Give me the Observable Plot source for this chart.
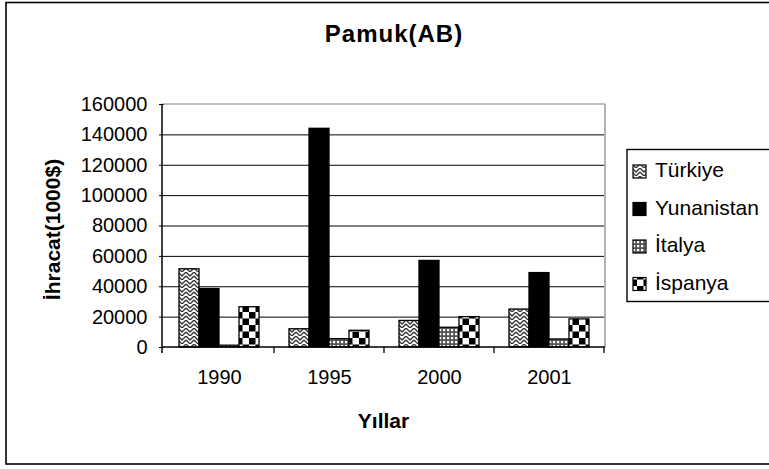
<!DOCTYPE html>
<html>
<head>
<meta charset="utf-8">
<script src="https://cdn.jsdelivr.net/npm/d3@7"></script>
<script src="https://cdn.jsdelivr.net/npm/@observablehq/plot@0.6"></script>
<style>
  html, body { margin: 0; padding: 0; background: white; }
  #chart { width: 769px; height: 469px; overflow: hidden; }
  svg { display: block; }
</style>
</head>
<body>
<div id="chart"></div>
<script>
// ---- data ----
const years = ["1990", "1995", "2000", "2001"];
const series = ["Türkiye", "Yunanistan", "İtalya", "İspanya"];
const turkiye = [51500, 12000, 17500, 25000];
const yunanistan = [38500, 144000, 57000, 49000];
const italya = [1200, 5500, 13000, 5300];
const ispanya = [26500, 11000, 20000, 18500];
const yTicks = [0, 20000, 40000, 60000, 80000, 100000, 120000, 140000, 160000];
const title = "Pamuk(AB)";
const xTitle = "Yıllar";
const yTitle = "İhracat(1000$)";

const seriesValues = [turkiye, yunanistan, italya, ispanya];
const data = years.flatMap((yr, i) =>
  series.map((s, j) => ({year: yr, series: s, value: seriesValues[j][i]})));

const patternIds = ["pat-tr", "pat-gr", "pat-it", "pat-es"];
const patternUrls = patternIds.map(id => `url(#${id})`);
const FONT = "'Liberation Sans', Arial, sans-serif";

const chart = Plot.plot({
  width: 769,
  height: 469,
  marginLeft: 162,
  marginRight: 164,
  marginTop: 104,
  marginBottom: 122,
  style: {fontFamily: FONT, fontSize: "20px", background: "white", color: "black", overflow: "visible"},
  fx: {domain: years, padding: 0, label: null},
  x: {domain: series, paddingInner: 0, paddingOuter: 0.7, axis: null},
  y: {domain: [0, 160000], label: null},
  color: {domain: series, range: patternUrls},
  marks: [
    Plot.gridY(yTicks.filter(t => t > 0 && t < 160000), {stroke: "black", strokeOpacity: 1, strokeWidth: 1}),
    Plot.barY(data, {fx: "year", x: "series", y: "value", fill: "series", stroke: "black", strokeWidth: 1.3}),
    Plot.axisY(yTicks, {tickSize: 5, tickPadding: 12, fontSize: 20, label: null, tickFormat: d => String(d), stroke: "black"}),
    Plot.axisFx({anchor: "bottom", tickSize: 0, tickPadding: 22, fontSize: 20, label: null})
  ]
});

document.getElementById("chart").appendChild(chart);

const svg = d3.select(chart);
// patterns
const defs = svg.insert("defs", ":first-child");
// Türkiye: zigzag / chevron
const p1 = defs.append("pattern").attr("id", "pat-tr").attr("patternUnits", "userSpaceOnUse")
  .attr("width", 8).attr("height", 8);
p1.append("rect").attr("width", 8).attr("height", 8).attr("fill", "white");
p1.append("path").attr("d", "M0,0 L4,4 L8,0 M0,4 L4,8 L8,4")
  .attr("fill", "none").attr("stroke", "#333").attr("stroke-width", 1.3);
// Yunanistan: solid
const p2 = defs.append("pattern").attr("id", "pat-gr").attr("patternUnits", "userSpaceOnUse")
  .attr("width", 4).attr("height", 4);
p2.append("rect").attr("width", 4).attr("height", 4).attr("fill", "black");
// İtalya: dotted grid
const p3 = defs.append("pattern").attr("id", "pat-it").attr("patternUnits", "userSpaceOnUse")
  .attr("width", 4).attr("height", 4);
p3.append("rect").attr("width", 4).attr("height", 4).attr("fill", "#555");
p3.append("rect").attr("x", 1).attr("y", 1).attr("width", 2.2).attr("height", 2.2).attr("fill", "white");
// İspanya: checkerboard
const p4 = defs.append("pattern").attr("id", "pat-es").attr("patternUnits", "userSpaceOnUse")
  .attr("width", 13).attr("height", 13);
p4.append("rect").attr("width", 13).attr("height", 13).attr("fill", "white");
p4.append("rect").attr("width", 6.5).attr("height", 6.5).attr("fill", "black");
p4.append("rect").attr("x", 6.5).attr("y", 6.5).attr("width", 6.5).attr("height", 6.5).attr("fill", "black");

const fx = chart.scale("fx");
const y = chart.scale("y");
const color = chart.scale("color");
const x0 = fx.range[0], x1 = fx.range[1];
const yBottom = y.apply(0), yTop = y.apply(160000);
const step = fx.step;

const g = svg.append("g");
// plot area border (gray top/right)
g.append("line").attr("x1", x0).attr("x2", x1).attr("y1", yTop).attr("y2", yTop).attr("stroke", "#808080").attr("stroke-width", 1.2);
g.append("line").attr("x1", x1).attr("x2", x1).attr("y1", yTop).attr("y2", yBottom).attr("stroke", "#808080").attr("stroke-width", 1.2);
// axes lines
g.append("line").attr("x1", x0).attr("x2", x0).attr("y1", yTop).attr("y2", yBottom + 6).attr("stroke", "black").attr("stroke-width", 1.5);
g.append("line").attr("x1", x0).attr("x2", x1).attr("y1", yBottom).attr("y2", yBottom).attr("stroke", "black").attr("stroke-width", 1.5);
// category boundary ticks
years.forEach(yr => {
  const bx = fx.apply(yr) + step;
  g.append("line").attr("x1", bx).attr("x2", bx).attr("y1", yBottom).attr("y2", yBottom + 6).attr("stroke", "black").attr("stroke-width", 1.3);
});

// outer chart border
g.append("rect").attr("x", 6).attr("y", 2.5).attr("width", 800).attr("height", 461.5)
  .attr("fill", "none").attr("stroke", "black").attr("stroke-width", 1.6);

// titles
g.append("text").attr("x", 394).attr("y", 42).attr("text-anchor", "middle")
  .attr("font-family", FONT).attr("font-size", 24).attr("font-weight", "bold").attr("letter-spacing", 1)
  .text(title);
g.append("text").attr("x", (x0 + x1) / 2).attr("y", 428).attr("text-anchor", "middle")
  .attr("font-family", FONT).attr("font-size", 21).attr("font-weight", "bold")
  .text(xTitle);
g.append("text").attr("transform", `translate(60,${(yTop + yBottom) / 2 + 4}) rotate(-90)`).attr("text-anchor", "middle")
  .attr("font-family", FONT).attr("font-size", 21).attr("font-weight", "bold")
  .text(yTitle);

// legend
const lg = g.append("g");
lg.append("rect").attr("x", 627).attr("y", 149.5).attr("width", 200).attr("height", 152)
  .attr("fill", "white").attr("stroke", "black").attr("stroke-width", 1.4);
series.forEach((s, i) => {
  const base = 177 + i * 37.5;
  lg.append("rect").attr("x", 633).attr("y", base - 12).attr("width", 13).attr("height", 13)
    .attr("fill", color.apply(s)).attr("stroke", "black").attr("stroke-width", 1.2);
  lg.append("text").attr("x", 655).attr("y", base).attr("text-anchor", "start")
    .attr("font-family", FONT).attr("font-size", 21)
    .text(s);
});
</script>
</body>
</html>
